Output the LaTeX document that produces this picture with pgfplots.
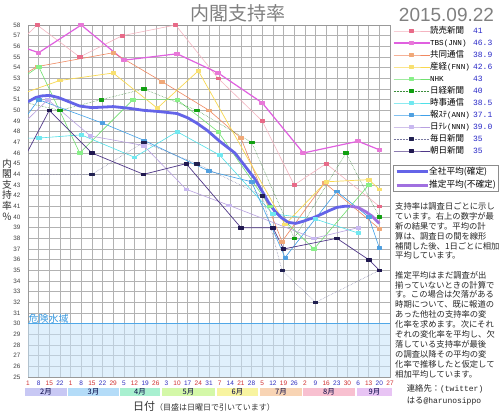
\documentclass[border=0pt]{standalone}
\usepackage{fontspec}
\usepackage{pgfplots}
\pgfplotsset{compat=1.18}
\setmainfont{Noto Sans CJK JP}
\newfontfamily\arial{Liberation Sans}
\newfontfamily\mono{Liberation Mono}
\definecolor{yomiL}{HTML}{F4B4C0}\definecolor{yomiM}{HTML}{E86A88}
\definecolor{tbsL}{HTML}{E060E0}\definecolor{tbsM}{HTML}{E878D8}
\definecolor{kyoL}{HTML}{F08860}\definecolor{kyoM}{HTML}{F0A878}
\definecolor{sanL}{HTML}{F8D850}\definecolor{sanM}{HTML}{F8E070}
\definecolor{nhkL}{HTML}{70E070}\definecolor{nhkM}{HTML}{88F088}
\definecolor{nikL}{HTML}{3C8C3C}\definecolor{nikM}{HTML}{10A010}
\definecolor{jijL}{HTML}{50E0E8}\definecolor{jijM}{HTML}{70E8F0}
\definecolor{annL}{HTML}{40A0E8}\definecolor{annM}{HTML}{50A0E0}
\definecolor{ntvL}{HTML}{B8A0E0}\definecolor{ntvM}{HTML}{C8B8F0}
\definecolor{maiL}{HTML}{7878A0}\definecolor{maiM}{HTML}{202050}
\definecolor{asaL}{HTML}{503888}\definecolor{asaM}{HTML}{201850}
\definecolor{avgC}{HTML}{6464E8}\definecolor{estC}{HTML}{A070E0}
\definecolor{valB}{HTML}{2828C8}
\definecolor{tr}{HTML}{D03030}\definecolor{tb}{HTML}{3030C0}
\definecolor{dangerF}{HTML}{C8E4FA}\definecolor{dangerL}{HTML}{50A8E8}\definecolor{dangerT}{HTML}{3A9AE0}
\definecolor{b1}{HTML}{C8C8F4}\definecolor{b2}{HTML}{B4DCF8}\definecolor{b3}{HTML}{A8F0D0}
\definecolor{b4}{HTML}{D4F8A8}\definecolor{b5}{HTML}{F8F4A0}\definecolor{b6}{HTML}{F8D4B4}
\definecolor{b7}{HTML}{F8C0D0}\definecolor{b8}{HTML}{E8C4F4}
\newcommand\val[1]{\textcolor{valB}{\mono\fontsize{8}{9}\selectfont #1}}
\newcommand\asc[1]{{\mono\fontsize{7.6}{9}\selectfont #1}}
\newcommand\nm[2]{\makebox[43pt][l]{#1}\val{#2}}
\begin{document}
\begin{tikzpicture}
\useasboundingbox (0,0) rectangle (500pt,414pt);
\fill[white] (0,0) rectangle (500pt,414pt);
\begin{axis}[
  at={(28pt,37pt)}, anchor=south west, scale only axis,
  width=362pt, height=352pt,
  xmin=0, xmax=238, ymin=25, ymax=58,
  xtick={0,7,...,238},
  xticklabels={\textcolor{tr}{1},\textcolor{tb}{8},\textcolor{tr}{15},\textcolor{tb}{22},
    \textcolor{tr}{1},\textcolor{tb}{8},\textcolor{tr}{15},\textcolor{tb}{22},\textcolor{tr}{29},
    \textcolor{tb}{5},\textcolor{tr}{12},\textcolor{tb}{19},\textcolor{tr}{26},
    \textcolor{tb}{3},\textcolor{tr}{10},\textcolor{tb}{17},\textcolor{tr}{24},\textcolor{tb}{31},
    \textcolor{tr}{7},\textcolor{tb}{14},\textcolor{tr}{21},\textcolor{tb}{28},
    \textcolor{tr}{5},\textcolor{tb}{12},\textcolor{tr}{19},\textcolor{tb}{26},
    \textcolor{tr}{2},\textcolor{tb}{9},\textcolor{tr}{16},\textcolor{tb}{23},\textcolor{tr}{30},
    \textcolor{tb}{6},\textcolor{tr}{13},\textcolor{tb}{20},\textcolor{tr}{27}},
  ytick={25,26,...,58},
  grid=major, grid style={draw=black!30, line width=0.45pt},
  axis line style={draw=black!40},
  tick style={draw=none},
  /pgf/number format/assume math mode=true,
  yticklabel style={font=\arial\fontsize{6.3}{7}\selectfont, text=black!75, xshift=-4pt},
  xticklabel style={font=\arial\fontsize{6.5}{7}\selectfont, yshift=-0.5pt},
  legend cell align=left,
  legend style={at={(1.008,0.9943)}, anchor=north west, draw=none, fill=none,
    inner sep=0pt, outer sep=0pt, font=\fontsize{8.5}{9}\selectfont, row sep=4pt,
    nodes={inner sep=0pt, text height=6.5pt, text depth=1.5pt},
    /tikz/every even column/.append style={column sep=2.5pt}},
  legend image code/.code={\draw[mark repeat=2,mark phase=2,#1] plot coordinates {(0pt,0pt) (18pt,0pt) (36pt,0pt)};},
  every axis plot/.append style={line join=round},
  mk/.style={mark=square*, mark size=1.6pt, mark options={solid, fill=#1, draw=#1, xscale=1.4, yscale=0.85}},
]
\fill[dangerF, fill opacity=0.55] (axis cs:0,25) rectangle (axis cs:238,30);
\draw[dangerL, line width=0.8pt] (axis cs:0,30) -- (axis cs:238,30);
\node[anchor=south west, text=dangerT, font=\fontsize{10}{10}\selectfont, inner sep=0.5pt] at (axis cs:0,30) {危険水域};

\addplot[yomiL, line width=0.6pt, mk=yomiM] coordinates {(-7,56.2)(6,58)(34,55)(62,57)(97,58)(125,53)(154,49)(175,43)(196,45)(231,41)};
\addlegendentry{\nm{読売新聞}{41}}
\addplot[tbsL, line width=1.2pt, mk=tbsM] coordinates {(-7,56.1)(7,55.4)(35,58)(63,54.7)(98,55.3)(125,53.5)(154,50.7)(181,46)(217,47.1)(231,46.3)};
\addlegendentry{\nm{\asc{TBS(JNN)}}{46.3}}
\addplot[kyoL, line width=0.6pt, mk=kyoM] coordinates {(-7,53)(6,54.1)(56,55.4)(88,52.7)(119,50)(140,47.4)(167,37.7)(195,43.2)(231,38.9)};
\addlegendentry{\nm{共同通信}{38.9}}
\addplot[sanL, line width=0.7pt, mk=sanM] coordinates {(-7,51.4)(21,52.8)(56,53.5)(85,50.2)(112,53.7)(169,39.3)(196,43.3)(224,43.5)(231,42.6)};
\addlegendentry{\nm{産経\asc{(FNN)}}{42.6}}
\addplot[nhkL, line width=0.6pt, mk=nhkM] coordinates {(-7,52.7)(7,54.1)(34,46)(69,51)(98,51)(125,48)(159,41)(188,37)(224,43)};
\addlegendentry{\nm{\asc{NHK}}{43}}
\addplot[nikL, line width=0.5pt, densely dotted, mk=nikM] coordinates {(-7,50.9)(21,50)(48,51)(76,52)(111,50)(147,47)(175,38)(209,46)(231,40)};
\addlegendentry{\nm{日経新聞}{40}}
\addplot[jijL, line width=0.6pt, mk=jijM] coordinates {(-7,47.4)(7,47.4)(35,47.7)(70,45.6)(98,48)(126,45.8)(161,40.3)(189,39.8)(217,38.5)};
\addlegendentry{\nm{時事通信}{38.5}}
\addplot[annL, line width=0.6pt, mk=annM] coordinates {(-7,48.3)(7,51)(49,48.8)(76,47.2)(119,44.3)(147,43.3)(169,36.2)(203,42.4)(224,40)(231,37.1)};
\addlegendentry{\nm{報ｽﾃ\asc{(ANN)}}{37.1}}
\addplot[ntvL, line width=0.6pt, mk=ntvM] coordinates {(-7,48.2)(13,51)(41,47.6)(76,46.7)(104,42.6)(132,41.1)(188,38)(217,39)};
\addlegendentry{\nm{日ﾃﾚ\asc{(NNN)}}{39.0}}
\addplot[maiL, line width=0.5pt, densely dotted, mk=maiM] coordinates {(-14,44)(42,44)(76,47)(111,45)(154,42)(167,35)(189,32)(231,35)};
\addlegendentry{\nm{毎日新聞}{35}}
\addplot[asaL, line width=0.7pt, mk=asaM] coordinates {(-7,44.3)(14,50)(42,46)(76,44)(104,45)(140,39)(161,39)(168,37)(203,38)(224,36)(231,35)};
\addlegendentry{\nm{朝日新聞}{35}}

\addplot[avgC, line width=2.8pt, forget plot] coordinates {(0,50.8)(5,51.2)(9,51.35)(14,51.4)(20,51.2)(27,50.8)(34,50.4)(42,50.25)(56,50.35)(66,50.2)(76,50.0)(85,49.9)(98,49.7)(105,49.3)(111,48.8)(118,48.1)(126,47.1)(136,46.0)(142,44.9)(149,43.6)(154,42.4)(158,41.4)(162,40.6)(166,40.0)(171,39.5)(176,39.4)(181,39.6)(187,39.9)(192,40.2)(198,40.6)(203,40.9)(208,41.0)(212,41.0)};
\addplot[estC, line width=2.8pt, forget plot] coordinates {(212,41.0)(217,40.9)(222,40.5)(226,40.1)(231,39.4)};
\end{axis}

\begin{axis}[hide axis, scale only axis, width=362pt, height=352pt,
  at={(28pt,37pt)}, anchor=south west, xmin=0, xmax=1, ymin=0, ymax=1,
  legend cell align=left,
  legend style={at={(1.008,0.6023)}, anchor=north west, draw=black!45, fill=white,
    inner sep=2pt, font=\fontsize{8.7}{9}\selectfont, row sep=4.4pt,
    nodes={inner sep=0pt, text height=7pt, text depth=2pt},
    /tikz/every even column/.append style={column sep=1.5pt}},
  legend image code/.code={\draw[#1] (0pt,0pt) -- (31pt,0pt);}]
\addlegendimage{avgC, line width=3pt}
\addlegendentry{全社平均(確定)}
\addlegendimage{estC, line width=3pt}
\addlegendentry{推定平均(不確定)}
\end{axis}

% title and date
\node[text=black!50, font=\fontsize{19}{19}\selectfont, inner sep=0pt] at (237.5pt,400.5pt) {内閣支持率};
\node[text=black!50, font=\arial\fontsize{19}{19}\selectfont, inner sep=0pt] at (446.5pt,399.5pt) {2015.09.22};
% y label
\node[align=center, font=\fontsize{9.8}{10.6}\selectfont, text=black!80, inner sep=0pt] at (7pt,224.5pt) {内\\閣\\支\\持\\率\\％};
% month bands
\foreach \a/\b/\m/\c in {25/67/2月/b1, 68/119/3月/b2, 120/160/4月/b3, 162/215/5月/b4, 217/258/6月/b5, 260/302/7月/b6, 303/355/8月/b7, 357/392/9月/b8}{
  \fill[\c] (\a pt,18pt) rectangle (\b pt,26pt);
  \node[font=\fontsize{7.5}{8}\selectfont, text=black!75!blue, inner sep=0pt] at ({(\a+\b)/2*1pt},22pt) {\m};
}
% x label
\node[anchor=base west, inner sep=0pt, text=black!80] at (133pt,3pt) {\fontsize{11}{11}\selectfont 日付\fontsize{8}{8}\selectfont（目盛は日曜日で引いています）};
% notes
\foreach \t [count=\i from 0] in {支持率は調査日ごとに示し, ています。右上の数字が最, 新の結果です。平均の計, 算は、調査日の間を線形, 補間した後、1日ごとに相加, 平均しています。}
  \node[anchor=base west, inner sep=0pt, font=\fontsize{8.3}{9}\selectfont, text=black!85] at (395pt,{204.1pt-\i*9.8pt}) {\t};
\foreach \t [count=\i from 0] in {推定平均はまだ調査が出, 揃っていないときの計算で, す。この場合は欠落がある, 時期について、既に報道の, あった他社の支持率の変, 化率を求めます。次にそれ, ぞれの変化率を平均し、欠, 落している支持率が最後, の調査以降その平均の変, 化率で推移したと仮定して, 相加平均しています。}
  \node[anchor=base west, inner sep=0pt, font=\fontsize{8.3}{9}\selectfont, text=black!85] at (395pt,{135.8pt-\i*9.9pt}) {\t};
\node[anchor=base west, inner sep=0pt, font=\fontsize{8.3}{9}\selectfont, text=black!85] at (406.7pt,22.5pt) {連絡先：{\mono\fontsize{8}{9}\selectfont(twitter)}};
\node[anchor=base west, inner sep=0pt, font=\fontsize{8.3}{9}\selectfont, text=black!85] at (406.7pt,10.5pt) {はる{\mono\fontsize{8}{9}\selectfont @harunosippo}};
\end{tikzpicture}
\end{document}
